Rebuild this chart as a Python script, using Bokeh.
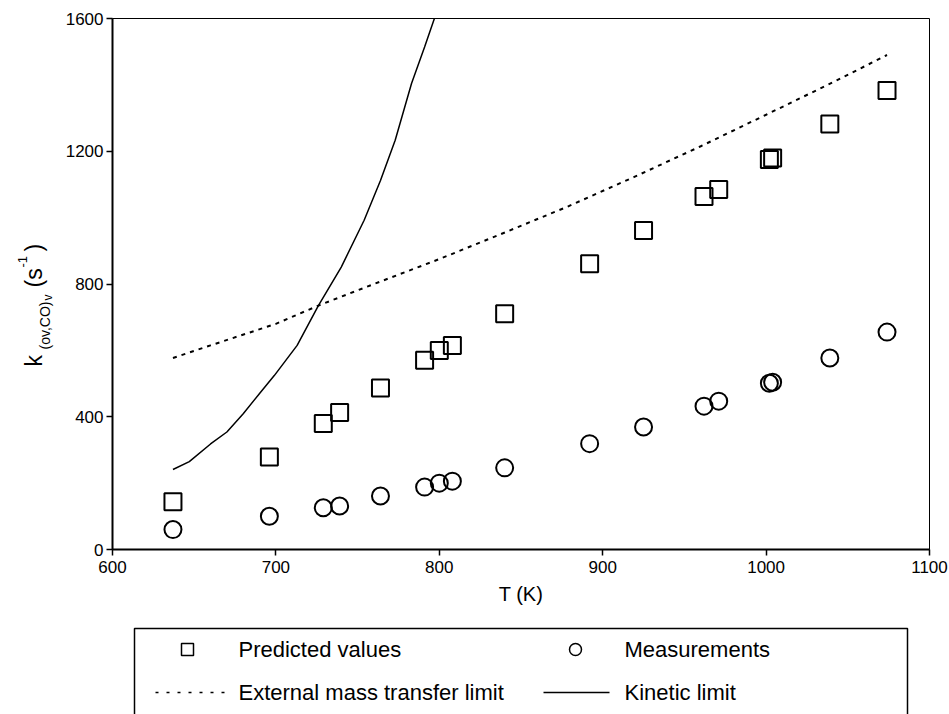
import math
from bokeh.plotting import figure
from bokeh.models import Range1d, FixedTicker
from bokeh.layouts import column, row
from bokeh.embed import file_html
from bokeh.resources import INLINE
from bokeh.core.properties import value

# ---------------- data ----------------
T_points = [637, 696, 729, 739, 764, 791, 800, 808, 840, 892, 925, 962, 971, 1002, 1004, 1039, 1074]
predicted = [144, 279, 380, 413, 487, 570, 600, 615, 710, 861, 961, 1064, 1085, 1175, 1180, 1282, 1383]
measured = [60, 100, 126, 131, 161, 188, 200, 206, 246, 319, 369, 432, 447, 501, 504, 577, 655]

ext_T = [637, 660, 700, 726, 760, 800, 837, 878, 919, 960, 1000, 1041, 1074]
ext_k = [577, 615, 680, 735, 800, 875, 949, 1032, 1122, 1215, 1310, 1408, 1490]

kin_T = [637, 647, 660, 670, 680, 690, 699, 713, 726, 740, 754, 764, 773, 783, 791, 797]
kin_k = [241, 265, 318, 354, 409, 470, 524, 615, 735, 851, 992, 1112, 1233, 1404, 1514, 1600]

x_ticks = [600, 700, 800, 900, 1000, 1100]
y_ticks = [0, 400, 800, 1200, 1600]

x_title = "T (K)"
y_title_parts = ["k", "(ov,CO)", "v", "(s", "-1", ")"]
legend_labels = ["Predicted values", "Measurements", "External mass transfer limit", "Kinetic limit"]

FONT = "Liberation Sans"

# page layout (pixels)
LAB_W = 60           # strip holding the y-axis title
PLOT_W = 889
PLOT_H = 620
LEG_H = 94
FRAME_L, FRAME_R, FRAME_T, FRAME_B = 112, 929, 18, 549

# ---------------- main plot ----------------
p = figure(width=PLOT_W, height=PLOT_H, x_range=Range1d(600, 1100), y_range=Range1d(0, 1600),
           output_backend="svg", toolbar_location=None,
           min_border_left=FRAME_L - LAB_W, min_border_right=LAB_W + PLOT_W - FRAME_R,
           min_border_top=FRAME_T, min_border_bottom=PLOT_H - FRAME_B)
p.grid.visible = False
p.outline_line_color = "black"
p.outline_line_width = 1
p.outline_line_alpha = 1.0
p.background_fill_color = "white"
p.border_fill_color = "white"

p.xaxis.ticker = FixedTicker(ticks=x_ticks)
p.yaxis.ticker = FixedTicker(ticks=y_ticks)
p.axis.minor_tick_line_color = None
p.axis.major_tick_in = 0
p.axis.major_tick_out = 6
p.axis.major_tick_line_width = 1.5
p.axis.major_tick_line_color = "black"
p.axis.axis_line_width = 2
p.axis.axis_line_color = "black"
p.axis.major_label_text_font = FONT
p.axis.major_label_text_font_size = "17px"
p.axis.major_label_text_color = "black"
p.xaxis.major_label_standoff = 5
p.yaxis.major_label_standoff = 3

p.xaxis.axis_label = x_title
p.xaxis.axis_label_text_font = FONT
p.xaxis.axis_label_text_font_size = "20px"
p.xaxis.axis_label_text_font_style = "normal"
p.xaxis.axis_label_text_color = "black"
p.xaxis.axis_label_standoff = 7

p.line(ext_T, ext_k, line_color="black", line_width=2, line_dash="4 5")
p.line(kin_T, kin_k, line_color="black", line_width=1.5)
p.scatter(T_points, predicted, marker="square", size=17, fill_color=None,
          line_color="black", line_width=2)
p.scatter(T_points, measured, marker="circle", size=17, fill_color=None,
          line_color="black", line_width=2)

# ---------------- y-axis title strip ----------------
ylab = figure(width=LAB_W, height=PLOT_H, x_range=Range1d(0, LAB_W),
              y_range=Range1d(0, FRAME_B - FRAME_T),
              output_backend="svg", toolbar_location=None,
              min_border_left=0, min_border_right=0,
              min_border_top=FRAME_T, min_border_bottom=PLOT_H - FRAME_B,
              x_axis_type=None, y_axis_type=None)
ylab.grid.visible = False
ylab.outline_line_color = None
ylab.background_fill_color = "white"
ylab.border_fill_color = "white"

# (font size, baseline x, start y) in page pixels for each title piece
ylab_style = [("23px", 33, 366), ("14px", 44, 349), ("12px", 47, 300),
              ("23px", 33, 287), ("13px", 22, 267), ("23px", 33, 251)]
for txt, (fs, bx, sy) in zip(y_title_parts, ylab_style):
    ylab.text(x=[bx], y=[FRAME_B - sy], text=[txt], angle=math.pi / 2,
              text_font=value(FONT), text_font_size=value(fs),
              text_align="left", text_baseline="alphabetic", text_color="black")

# ---------------- legend panel ----------------
leg = figure(width=PLOT_W, height=LEG_H, x_range=Range1d(FRAME_L, FRAME_R), y_range=Range1d(0, LEG_H),
             output_backend="svg", toolbar_location=None,
             min_border_left=FRAME_L - LAB_W, min_border_right=LAB_W + PLOT_W - FRAME_R,
             min_border_top=0, min_border_bottom=0,
             x_axis_type=None, y_axis_type=None)
leg.grid.visible = False
leg.outline_line_color = None
leg.background_fill_color = "white"
leg.border_fill_color = "white"

LEG_TOP = PLOT_H + LEG_H   # page y of the legend panel bottom


def ly(page_y):
    return LEG_TOP - page_y


leg.quad(left=[134], right=[907], top=[ly(628)], bottom=[ly(740)], fill_color=None,
         line_color="black", line_width=1.5)
row1, row2 = ly(649), ly(692)
col1_sym, col1_txt = 187, 238
col2_sym, col2_txt = 575, 624
leg.scatter([col1_sym], [row1], marker="square", size=12, fill_color=None,
            line_color="black", line_width=1.5)
leg.scatter([col2_sym], [row1], marker="circle", size=12, fill_color=None,
            line_color="black", line_width=1.5)
leg.line([155, 224], [row2, row2], line_color="black", line_width=1.5, line_dash="3 8")
leg.line([543, 609], [row2, row2], line_color="black", line_width=1.5)
leg.text(x=[col1_txt, col2_txt, col1_txt, col2_txt], y=[row1, row1, row2, row2],
         text=legend_labels, text_font=value(FONT), text_font_size=value("22px"),
         text_align="left", text_baseline="middle", text_color="black")

layout = row(ylab, column(p, leg, spacing=0), spacing=0)
open("out.html", "w").write(file_html(layout, INLINE))
